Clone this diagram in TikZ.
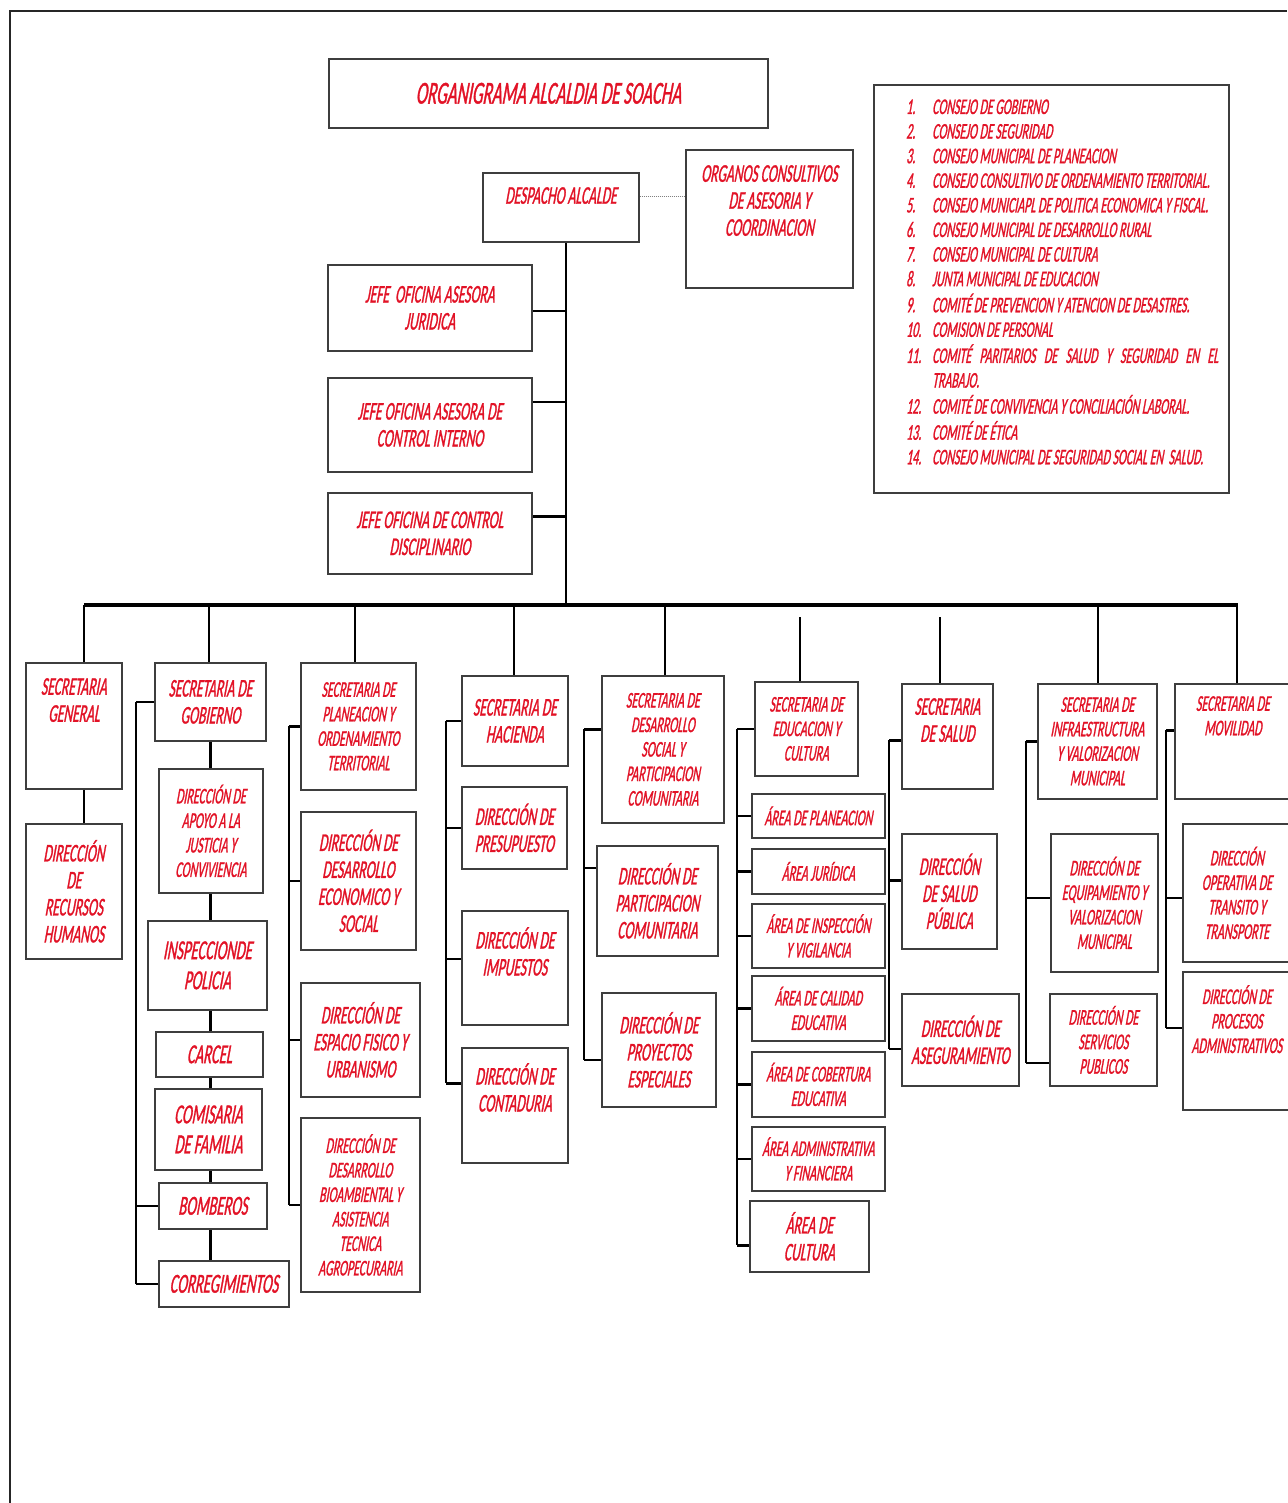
\documentclass[tikz,border=0pt]{standalone}
\usepackage{fontspec}
\setmainfont{Carlito}[FakeStretch=0.53, FakeSlant=0.18, FakeBold=1]
\usetikzlibrary{positioning,backgrounds}
\definecolor{orgred}{RGB}{226,18,38}
\definecolor{boxgray}{RGB}{62,62,62}
\newcommand\orgsmall{\fontsize{22.5}{24.5}\selectfont}
\newcommand\orgmid{\fontsize{25.5}{27}\selectfont}
\newcommand\orglarge{\fontsize{27.5}{30}\selectfont}
\newcommand\orglegend{\fontsize{22.4}{24.6}\selectfont}
\tikzset{orgbox/.style 2 args={
    draw=boxgray, line width=1.7pt, fill=white,
    anchor=north west,
    minimum width=#1pt, minimum height=#2pt,
    inner sep=1pt, align=center,
    text=orgred, font=\orgmid
  },
  fsmall/.style={font=\orgsmall},
  flarge/.style={font=\orglarge},
  lbl/.style={text=orgred, align=center, inner sep=0pt, font=\orgmid},
  link/.style={line width=2.6pt},
  bus/.style={line width=3.6pt},
  dotline/.style={densely dotted, line width=1pt, black!50},
  frame/.style={line width=2.4pt, black!85}
}

\begin{document}
\begin{tikzpicture}[x=1pt, y=-1pt]
\useasboundingbox (0,0) rectangle (1287,1503);
\draw[frame] (10,1503) -- (10,11) -- (1287,11);

% top part
\node[orgbox={439}{69}, font=\fontsize{32}{34}\selectfont] (title) at (328,58) {ORGANIGRAMA ALCALDIA DE SOACHA};
\node[orgbox={156}{69}] (desp) at (482,172) {};
\node[lbl, below=15pt of desp.north] (despt) {DESPACHO ALCALDE};
\node[orgbox={167}{138}] (organ) at (685,149) {};
\node[lbl, below=16pt of organ.north] (organt) {ORGANOS CONSULTIVOS\\DE ASESORIA Y\\COORDINACION};
\node[orgbox={204}{86}] (jefe1) at (327,264) {JEFE~~OFICINA ASESORA\\JURIDICA};
\node[orgbox={204}{94}] (jefe2) at (327,377) {JEFE OFICINA ASESORA DE\\CONTROL INTERNO};
\node[orgbox={204}{81}] (jefe3) at (327,492) {JEFE OFICINA DE CONTROL\\DISCIPLINARIO};

% legend
\node[orgbox={355}{408}] (legbox) at (873,84) {};
\node[anchor=base west, inner sep=0pt, text=orgred, font=\orglegend] (legend) at (906,114) {%
\begin{tabular}[t]{@{}p{26pt}@{}l@{}}
1. & CONSEJO DE GOBIERNO\\
2. & CONSEJO DE SEGURIDAD\\
3. & CONSEJO MUNICIPAL DE PLANEACION\\
4. & CONSEJO CONSULTIVO DE ORDENAMIENTO TERRITORIAL.\\
5. & CONSEJO MUNICIAPL DE POLITICA ECONOMICA Y FISCAL.\\
6. & CONSEJO MUNICIPAL DE DESARROLLO RURAL\\
7. & CONSEJO MUNICIPAL DE CULTURA\\
8. & JUNTA MUNICIPAL DE EDUCACION\\
9. & COMITÉ DE PREVENCION Y ATENCION DE DESASTRES.\\
10. & COMISION DE PERSONAL\\
11. & \makebox[286pt][s]{COMITÉ PARITARIOS DE SALUD Y SEGURIDAD EN EL}\\
 & TRABAJO.\\
12. & COMITÉ DE CONVIVENCIA Y CONCILIACIÓN LABORAL.\\
13. & COMITÉ DE ÉTICA\\
14. & CONSEJO MUNICIPAL DE SEGURIDAD SOCIAL EN~ SALUD.
\end{tabular}};

% secretaria general
\node[orgbox={96}{126}] (sg) at (25,662) {};
\node[lbl, below=16pt of sg.north] (sgt) {SECRETARIA\\GENERAL};
\node[orgbox={96}{135}] (rrhh) at (25,823) {DIRECCIÓN\\DE\\RECURSOS\\HUMANOS};

% gobierno
\node[orgbox={111}{78}] (sgob) at (154,662) {SECRETARIA DE\\GOBIERNO};
\node[orgbox={104}{124}, fsmall] (apoyo) at (158,768) {DIRECCIÓN DE\\APOYO A LA\\JUSTICIA Y\\CONVIVIENCIA};
\node[orgbox={119}{89}, flarge] (insp) at (147,920) {INSPECCIONDE\\POLICIA};
\node[orgbox={107}{45}, flarge] (carcel) at (155,1031) {CARCEL};
\node[orgbox={107}{81}, flarge] (comis) at (154,1088) {COMISARIA\\DE FAMILIA};
\node[orgbox={108}{46}, flarge] (bomb) at (158,1182) {BOMBEROS};
\node[orgbox={130}{46}, flarge] (corr) at (158,1260) {CORREGIMIENTOS};

% planeacion
\node[orgbox={115}{127}, fsmall] (splan) at (300,662) {SECRETARIA DE\\PLANEACION Y\\ORDENAMIENTO\\TERRITORIAL};
\node[orgbox={115}{138}] (ddeco) at (300,811) {DIRECCIÓN DE\\DESARROLLO\\ECONOMICO Y\\SOCIAL};
\node[orgbox={119}{114}] (espac) at (300,982) {DIRECCIÓN DE\\ESPACIO FISICO Y\\URBANISMO};
\node[orgbox={119}{174}, fsmall] (bioam) at (300,1117) {DIRECCIÓN DE\\DESARROLLO\\BIOAMBIENTAL Y\\ASISTENCIA\\TECNICA\\AGROPECURARIA};

% hacienda
\node[orgbox={106}{90}] (shac) at (461,675) {SECRETARIA DE\\HACIENDA};
\node[orgbox={105}{82}] (presu) at (461,786) {DIRECCIÓN DE\\PRESUPUESTO};
\node[orgbox={106}{114}] (impue) at (461,910) {};
\node[lbl, below=17pt of impue.north] (impuet) {DIRECCIÓN DE\\IMPUESTOS};
\node[orgbox={106}{115}] (conta) at (461,1047) {};
\node[lbl, below=16pt of conta.north] (contat) {DIRECCIÓN DE\\CONTADURIA};

% desarrollo social
\node[orgbox={122}{147}, fsmall] (sds) at (601,675) {SECRETARIA DE\\DESARROLLO\\SOCIAL Y\\PARTICIPACION\\COMUNITARIA};
\node[orgbox={121}{110}] (parti) at (596,845) {DIRECCIÓN DE\\PARTICIPACION\\COMUNITARIA};
\node[orgbox={114}{114}] (proye) at (601,992) {DIRECCIÓN DE\\PROYECTOS\\ESPECIALES};

% educacion
\node[orgbox={103}{94}, fsmall] (sedu) at (754,681) {SECRETARIA DE\\EDUCACION Y\\CULTURA};
\node[orgbox={133}{44}, fsmall] (aplan) at (751,793) {ÁREA DE PLANEACION};
\node[orgbox={133}{45}, fsmall] (ajur) at (751,848) {ÁREA JURÍDICA};
\node[orgbox={133}{64}, fsmall] (ainsp) at (751,903) {ÁREA DE INSPECCIÓN\\Y VIGILANCIA};
\node[orgbox={133}{65}, fsmall] (acal) at (751,975) {ÁREA DE CALIDAD\\EDUCATIVA};
\node[orgbox={133}{65}, fsmall] (acob) at (751,1051) {ÁREA DE COBERTURA\\EDUCATIVA};
\node[orgbox={133}{64}, fsmall] (aadm) at (751,1126) {ÁREA ADMINISTRATIVA\\Y FINANCIERA};
\node[orgbox={119}{71}] (acult) at (749,1200) {ÁREA DE\\CULTURA};

% salud
\node[orgbox={91}{105}] (ssal) at (901,683) {};
\node[lbl, below=15pt of ssal.north] (ssalt) {SECRETARIA\\DE SALUD};
\node[orgbox={95}{115}] (dsalp) at (901,833) {DIRECCIÓN\\DE SALUD\\PÚBLICA};
\node[orgbox={117}{92}] (daseg) at (901,993) {DIRECCIÓN DE\\ASEGURAMIENTO};

% infraestructura
\node[orgbox={119}{115}, fsmall] (sinfra) at (1037,683) {SECRETARIA DE\\INFRAESTRUCTURA\\Y VALORIZACION\\MUNICIPAL};
\node[orgbox={107}{138}, fsmall] (dequi) at (1050,833) {DIRECCIÓN DE\\EQUIPAMIENTO Y\\VALORIZACION\\MUNICIPAL};
\node[orgbox={107}{92}, fsmall] (dserv) at (1049,993) {DIRECCIÓN DE\\SERVICIOS\\PUBLICOS};

% movilidad
\node[orgbox={116}{115}] (smov) at (1174,683) {};
\node[lbl, font=\orgsmall, below=13pt of smov.north] (smovt) {SECRETARIA DE\\MOVILIDAD};
\node[orgbox={108}{138}, fsmall] (doper) at (1182,823) {DIRECCIÓN\\OPERATIVA DE\\TRANSITO Y\\TRANSPORTE};
\node[orgbox={108}{138}] (dproc) at (1182,971) {};
\node[lbl, font=\orgsmall, below=14pt of dproc.north] (dproct) {DIRECCIÓN DE\\PROCESOS\\ADMINISTRATIVOS};

\begin{scope}[on background layer]
  % trunk and bus
  \coordinate (trk) at ([xshift=5pt]desp.south);
  \coordinate (busl) at (84,605);
  \coordinate (busr) at (1238,605);
  \draw[link] (trk) -- (trk |- busl);
  \draw[bus] (busl) -- (busr);
  \draw[dotline] ([yshift=11pt]desp.east) -- ([yshift=11pt]desp.east -| organ.west);
  \draw[link] ([yshift=-3pt]jefe1.east) coordinate (j1) -- (j1 -| trk);
  \draw[link] ([yshift=23pt]jefe2.east) coordinate (j2) -- (j2 -| trk);
  \draw[link] ([yshift=17pt]jefe3.east) coordinate (j3) -- (j3 -| trk);
  \foreach \x/\y/\n in {84/605/sg, 209/605/sgob, 355/605/splan, 514/605/shac, 665/605/sds,
                        800/617/sedu, 940/617/ssal, 1098/605/sinfra, 1237/605/smov}
    \draw[link] (\x,\y) -- (\x,\y |- \n.north);
  % columns
  \draw[link] (84,0 |- sg.south) -- (84,0 |- rrhh.north);
  \draw[link] (sgob.south) -- (sgob.south |- corr.north);
  \coordinate (gx) at (136,0);
  \draw[link] (gx |- sgob.west) -- (gx |- corr.west);
  \foreach \n in {sgob,bomb,corr} \draw[link] (gx |- \n.west) -- (\n.west);
  \coordinate (px) at (289,0);
  \draw[link] (px |- splan.west) -- (px |- bioam.west);
  \foreach \n in {splan,ddeco,espac,bioam} \draw[link] (px |- \n.west) -- (\n.west);
  \coordinate (hx) at (446,0);
  \draw[link] (hx |- shac.west) -- ([yshift=22pt]conta.west -| hx);
  \foreach \n/\s in {shac/0,presu/0,impue/9,conta/22} \draw[link] ([yshift=\s pt]\n.west) coordinate (t) -- (t -| hx);
  \coordinate (dx) at (584,0);
  \draw[link] ([yshift=20pt]sds.west -| dx) -- ([yshift=-10pt]proye.west -| dx);
  \foreach \n/\s in {sds/20,parti/33,proye/-10} \draw[link] ([yshift=\s pt]\n.west) coordinate (t) -- (t -| dx);
  \coordinate (ex) at (737,0);
  \draw[link] (ex |- sedu.west) -- ([yshift=-9pt]acult.west -| ex);
  \foreach \n/\s in {sedu/0,aplan/0,ajur/0,ainsp/0,acal/0,acob/0,aadm/0,acult/-9} \draw[link] ([yshift=\s pt]\n.west) coordinate (t) -- (t -| ex);
  \coordinate (sx) at (889,0);
  \draw[link] ([yshift=-4pt]ssal.west -| sx) -- ([yshift=-9pt]daseg.west -| sx);
  \foreach \n/\s in {ssal/-4,dsalp/11,daseg/-9} \draw[link] ([yshift=\s pt]\n.west) coordinate (t) -- (t -| sx);
  \coordinate (ix) at (1026,0);
  \draw[link] (ix |- sinfra.west) -- ([yshift=-23pt]dserv.west -| ix);
  \foreach \n/\s in {sinfra/0,dequi/5,dserv/-23} \draw[link] ([yshift=\s pt]\n.west) coordinate (t) -- (t -| ix);
  \coordinate (mx) at (1166,0);
  \draw[link] ([yshift=11pt]smov.west -| mx) -- ([yshift=13pt]dproc.west -| mx);
  \foreach \n/\s in {smov/11,doper/-5,dproc/13} \draw[link] ([yshift=\s pt]\n.west) coordinate (t) -- (t -| mx);
\end{scope}
\end{tikzpicture}
\end{document}
